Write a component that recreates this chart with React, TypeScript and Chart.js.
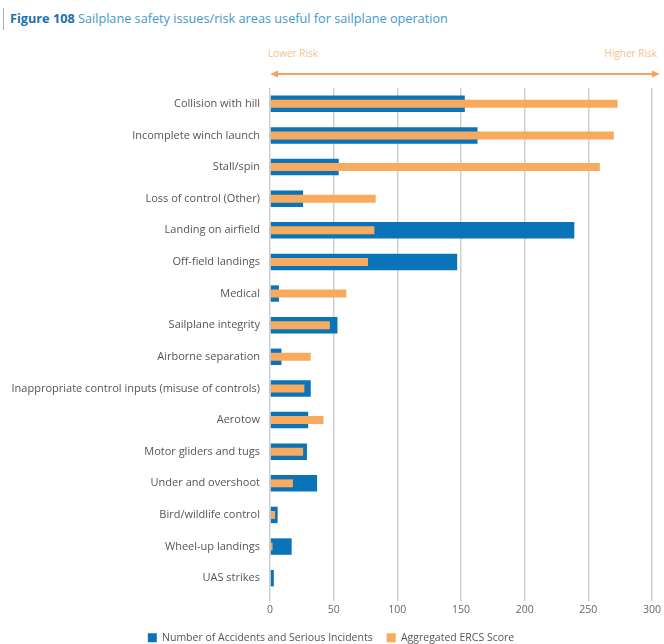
import React, { useEffect, useRef } from "react";
import { Chart, registerables } from "chart.js";

Chart.register(...registerables);

const categories = [
  "Collision with hill",
  "Incomplete winch launch",
  "Stall/spin",
  "Loss of control (Other)",
  "Landing on airfield",
  "Off-field landings",
  "Medical",
  "Sailplane integrity",
  "Airborne separation",
  "Inappropriate control inputs (misuse of controls)",
  "Aerotow",
  "Motor gliders and tugs",
  "Under and overshoot",
  "Bird/wildlife control",
  "Wheel-up landings",
  "UAS strikes",
];

const accidents = [153, 163, 54, 26, 239, 147, 7, 53, 9, 32, 30, 29, 37, 6, 17, 3];
const ercsScore = [273, 270, 259, 83, 82, 77, 60, 47, 32, 27, 42, 26, 18, 4, 2, 0];

const seriesLabels = ["Number of Accidents and Serious Incidents", "Aggregated ERCS Score"];
const xTickValues = [0, 50, 100, 150, 200, 250, 300];
const riskLabels = ["Lower Risk", "Higher Risk"];

const BLUE = "#0b73b8";
const ORANGE = "#f8aa5e";
const FONT = "'Open Sans', Lato, sans-serif";

export default function App() {
  const canvasRef = useRef<HTMLCanvasElement | null>(null);

  useEffect(() => {
    if (!canvasRef.current) return;
    const chart = new Chart(canvasRef.current, {
      type: "bar",
      data: {
        labels: categories,
        datasets: [
          {
            label: seriesLabels[0],
            data: accidents,
            backgroundColor: BLUE,
            barPercentage: 0.52,
            categoryPercentage: 1,
            grouped: false,
            order: 1,
          },
          {
            label: seriesLabels[1],
            data: ercsScore,
            backgroundColor: ORANGE,
            barPercentage: 0.25,
            categoryPercentage: 1,
            grouped: false,
            order: 0,
          },
        ],
      },
      options: {
        indexAxis: "y",
        responsive: false,
        animation: false,
        layout: { padding: { top: 88, right: 2, left: 0, bottom: -9 } },
        scales: {
          x: {
            min: 0,
            max: 300,
            afterBuildTicks: (scale: any) => {
              scale.ticks = xTickValues.map((v) => ({ value: v }));
            },
            afterFit: (scale: any) => {
              scale.height = 24.5;
            },
            grid: {
              color: "#cfcfcf",
              lineWidth: 1.5,
              drawTicks: true,
              tickLength: 7,
            },
            border: { display: false },
            ticks: {
              color: "#666",
              font: { family: FONT, size: 10.5 },
              padding: 3,
            },
          },
          y: {
            afterFit: (scale: any) => {
              scale.width = 270;
            },
            grid: { display: false },
            border: { display: false },
            ticks: {
              color: "#555",
              font: { family: FONT, size: 11 },
              padding: 2,
              autoSkip: false,
            },
          },
        },
        plugins: {
          tooltip: { enabled: false },
          legend: {
            position: "bottom",
            labels: {
              boxWidth: 9,
              boxHeight: 9,
              padding: 14,
              color: "#555",
              font: { family: FONT, size: 10.5 },
              sort: (a: any, b: any) => a.datasetIndex - b.datasetIndex,
            },
          },
        },
      },
    });
    return () => chart.destroy();
  }, []);

  return (
    <div
      style={{
        position: "fixed",
        left: 0,
        top: 0,
        width: 664,
        height: 644,
        background: "#fff",
        fontFamily: FONT,
      }}
    >
      <div
        style={{
          position: "absolute",
          left: 3,
          top: 8,
          width: 1,
          height: 22,
          background: "#9fb7c8",
        }}
      />
      <div
        style={{
          position: "absolute",
          left: 10,
          top: 9,
          fontSize: 12.7,
          color: "#3d9acb",
          whiteSpace: "nowrap",
        }}
      >
        <span style={{ fontWeight: 700, color: "#1a70ae" }}>Figure 108</span>
        <span> Sailplane safety issues/risk areas useful for sailplane operation</span>
      </div>
      <div
        style={{
          position: "absolute",
          left: 268,
          top: 46,
          fontSize: 10,
          color: "#f7c08d",
        }}
      >
        {riskLabels[0]}
      </div>
      <div
        style={{
          position: "absolute",
          right: 7,
          top: 46,
          fontSize: 10,
          color: "#f7c08d",
        }}
      >
        {riskLabels[1]}
      </div>
      <svg
        width={664}
        height={20}
        style={{ position: "absolute", left: 0, top: 64 }}
      >
        <line x1={276} y1={10} x2={654} y2={10} stroke="#f3a35e" strokeWidth={2} />
        <polygon points="270,10 278,6.5 278,13.5" fill="#f3a35e" />
        <polygon points="660,10 652,6.5 652,13.5" fill="#f3a35e" />
      </svg>
      <canvas
        ref={canvasRef}
        width={664}
        height={644}
        style={{ position: "absolute", left: 0, top: 0 }}
      />
    </div>
  );
}
